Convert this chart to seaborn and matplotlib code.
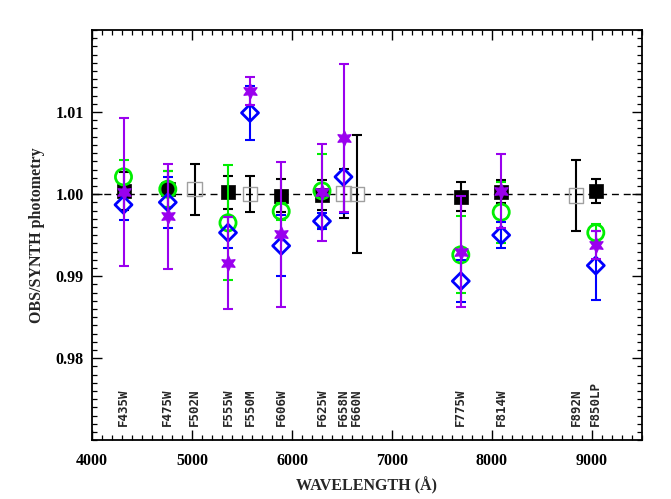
import numpy as np
import pandas as pd
import matplotlib
matplotlib.use("Agg")
import matplotlib.pyplot as plt
from matplotlib.ticker import MultipleLocator, FormatStrFormatter
import seaborn as sns

nan = np.nan

# filter names and plotted wavelengths (A)
filters = ["F435W", "F475W", "F502N", "F555W", "F550M", "F606W", "F625W",
           "F658N", "F660N", "F775W", "F814W", "F892N", "F850LP"]
wave = [4315, 4758, 5025, 5360, 5580, 5892, 6300, 6515, 6648, 7688, 8092, 8842, 9038]

# black filled squares (broad band)
black_val = [1.0004, 1.0006, nan, 1.0002, nan, 0.9998, 0.9999, nan, nan, 0.9997, 1.0003, nan, 1.0004]
black_err = [0.0023, 0.0022, nan, 0.0020, nan, 0.0020, 0.0018, nan, nan, 0.0018, 0.0014, nan, 0.0015]

# grey open squares (narrow / medium band)
gray_val = [nan, nan, 1.0006, nan, 1.0000, nan, nan, 1.0001, 1.0000, nan, nan, 0.9998, nan]
gray_err = [nan, nan, 0.0031, nan, 0.0022, nan, nan, 0.0030, 0.0072, nan, nan, 0.0043, nan]

# green open circles
green_val = [1.0021, 1.0006, nan, 0.9965, nan, 0.9979, 1.0004, nan, nan, 0.9926, 0.9978, nan, 0.9953]
green_err = [0.0020, 0.0022, nan, 0.0070, nan, 0.0010, 0.0045, nan, nan, 0.0047, 0.0037, nan, 0.0011]

# blue open diamonds
blue_val = [0.9987, 0.9990, nan, 0.9953, 1.0099, 0.9937, 0.9967, 1.0021, nan, 0.9894, 0.9950, nan, 0.9913]
blue_err = [0.0018, 0.0031, nan, 0.0019, 0.0033, 0.0037, 0.0010, 0.0044, nan, 0.0026, 0.0016, nan, 0.0042]

# purple stars
purple_val = [1.0003, 0.9973, nan, 0.9916, 1.0126, 0.9951, 1.0002, 1.0068, nan, 0.9930, 1.0004, nan, 0.9938]
purple_err = [0.0090, 0.0064, nan, 0.0056, 0.0017, 0.0088, 0.0059, 0.0090, nan, 0.0068, 0.0045, nan, 0.0017]

xticks = [4000, 5000, 6000, 7000, 8000, 9000]
yticks = [0.98, 0.99, 1.00, 1.01]

sns.set_style("ticks")
plt.rcParams["font.family"] = ["Liberation Serif", "DejaVu Serif"]
plt.rcParams["font.weight"] = "bold"
plt.rcParams["axes.labelweight"] = "bold"

fig = plt.figure(figsize=(6.71, 4.99), dpi=100)
ax = fig.add_axes([92 / 671, 1 - 440.3 / 499, 550 / 671, 410.3 / 499])

ax.axhline(1.0, color="black", lw=1.0, ls=(0, (5, 3.5)), zorder=1)

# (values, errors, marker, size, face, edge, edge width, bar colour)
series = [
    (black_val, black_err, "s", 110, "black", "black", 0.5, "black"),
    (gray_val, gray_err, "s", 110, "none", "#a0a0a0", 1.0, "black"),
    (green_val, green_err, "o", 135, "none", "#00ee00", 2.0, "#00ee00"),
    (blue_val, blue_err, "D", 75, "none", "#0000ff", 2.0, "#0000ff"),
    (purple_val, purple_err, (6, 1, 0), 115, "#9a00ee", "#9a00ee", 1.0, "#9a00ee"),
]

z = 2
for vals, errs, mk, size, fc, ec, lw, bar in series:
    df = pd.DataFrame({"wave": wave, "val": vals, "err": errs}).dropna()
    ax.errorbar(df["wave"], df["val"], yerr=df["err"], fmt="none", ecolor=bar,
                elinewidth=1.5, capsize=3.8, capthick=1.5, zorder=z)
    sns.scatterplot(data=df, x="wave", y="val", marker=mk, s=size,
                    facecolor=fc, edgecolor=ec, linewidth=lw, ax=ax,
                    legend=False, zorder=z + 1)
    z += 2

for name, w in zip(filters, wave):
    ax.text(w, 0.9717, name, rotation=90, ha="center", va="bottom",
            fontfamily="DejaVu Sans Mono", fontweight="bold", fontsize=9)

ax.set_xlim(4000, 9500)
ax.set_ylim(0.97, 1.02)
ax.xaxis.set_minor_locator(MultipleLocator(100))
ax.yaxis.set_minor_locator(MultipleLocator(0.001))
ax.set_xticks(xticks)
ax.set_yticks(yticks)
ax.yaxis.set_major_formatter(FormatStrFormatter("%.2f"))
ax.set_xlim(4000, 9500)
ax.set_ylim(0.97, 1.02)

ax.tick_params(which="both", direction="in", top=True, right=True, colors="black")
ax.tick_params(which="major", length=7, width=1.0, labelsize=11.5)
ax.tick_params(which="minor", length=3.5, width=0.9)
ax.tick_params(axis="x", which="major", pad=9)
ax.tick_params(axis="y", which="major", pad=6)
for s in ax.spines.values():
    s.set_linewidth(1.3)
    s.set_color("black")

ax.set_xlabel("WAVELENGTH (Å)", fontsize=11.5)
ax.set_ylabel("OBS/SYNTH photometry", fontsize=11.5)
ax.xaxis.set_label_coords(0.5, -0.09)
ax.yaxis.set_label_coords(-0.086, 0.5)

fig.savefig("out.png", dpi=100)
